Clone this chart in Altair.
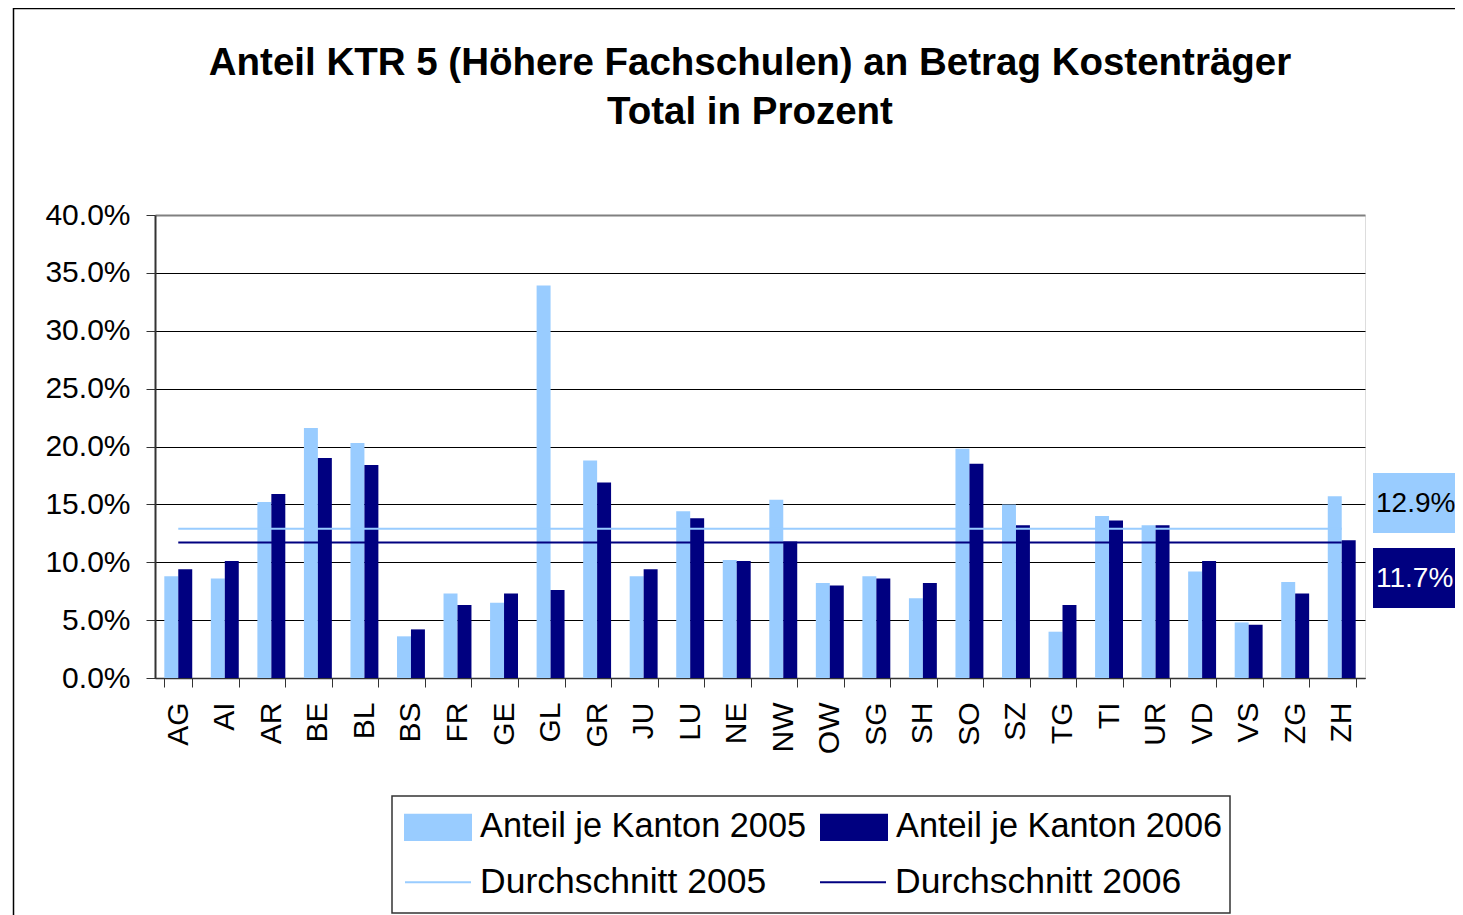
import altair as alt
import pandas as pd

cantons = ["AG", "AI", "AR", "BE", "BL", "BS", "FR", "GE", "GL", "GR", "JU", "LU", "NE",
           "NW", "OW", "SG", "SH", "SO", "SZ", "TG", "TI", "UR", "VD", "VS", "ZG", "ZH"]
share_2005 = [8.8, 8.6, 15.2, 21.6, 20.3, 3.6, 7.3, 6.5, 33.9, 18.8, 8.8, 14.4, 10.2,
              15.4, 8.2, 8.8, 6.9, 19.8, 15.0, 4.0, 14.0, 13.2, 9.2, 4.8, 8.3, 15.7]
share_2006 = [9.4, 10.1, 15.9, 19.0, 18.4, 4.2, 6.3, 7.3, 7.6, 16.9, 9.4, 13.8, 10.1,
              11.8, 8.0, 8.6, 8.2, 18.5, 13.2, 6.3, 13.6, 13.2, 10.1, 4.6, 7.3, 11.9]
avg_2005 = 12.9
avg_2006 = 11.7

bar_names = ["Anteil je Kanton 2005", "Anteil je Kanton 2006"]
line_names = ["Durchschnitt 2005", "Durchschnitt 2006"]
LIGHT = "#99CCFF"
DARK = "#000080"
FONT = "Liberation Sans"

bars = pd.DataFrame({
    "Kanton": cantons * 2,
    "Serie": [bar_names[0]] * len(cantons) + [bar_names[1]] * len(cantons),
    "Anteil": [v / 100 for v in share_2005] + [v / 100 for v in share_2006],
})
lines = pd.DataFrame({
    "Kanton": cantons * 2,
    "Serie": [line_names[0]] * len(cantons) + [line_names[1]] * len(cantons),
    "Anteil": [avg_2005 / 100] * len(cantons) + [avg_2006 / 100] * len(cantons),
})
one = pd.DataFrame({"k": [0]})
avg_labels = pd.DataFrame({"txt": [f"{avg_2005:.1f}%", f"{avg_2006:.1f}%"]})

x_enc = alt.X("Kanton:N", sort=cantons,
              scale=alt.Scale(paddingInner=0.4, paddingOuter=0.2),
              axis=alt.Axis(title=None, labelAngle=270, labelFontSize=30, labelFont=FONT,
                            labelColor="black", labelPadding=15, tickSize=9,
                            tickBand="extent", tickColor="#333333", domainColor="#333333",
                            domainWidth=1.5, labelAlign="right", labelBaseline="middle"))
y_enc = alt.Y("Anteil:Q",
              scale=alt.Scale(domain=[0, 0.4], nice=False),
              axis=alt.Axis(title=None, format=".1%", values=[i * 0.05 for i in range(9)],
                            labelFontSize=30, labelFont=FONT, labelColor="black",
                            labelPadding=16, tickSize=9, tickColor="#333333",
                            domainColor="#333333", domainWidth=2, grid=True,
                            gridColor={"condition": {"test": "datum.value >= 0.399", "value": "#808080"},
                                       "value": "black"},
                            gridWidth={"condition": {"test": "datum.value >= 0.399", "value": 2},
                                       "value": 1}))

frame = alt.Chart(one).mark_rect(fill=None, stroke="black", strokeWidth=1.5, clip=False).encode(
    x=alt.value(-141.5), x2=alt.value(1400), y=alt.value(-206.5), y2=alt.value(800))

bar_layer = alt.Chart(bars).mark_bar().encode(
    x=x_enc,
    xOffset=alt.XOffset("Serie:N", sort=bar_names),
    y=y_enc,
    fill=alt.Fill("Serie:N", scale=alt.Scale(domain=bar_names, range=[LIGHT, DARK]),
                  legend=alt.Legend(orient="none", legendX=249, legendY=578,
                                    direction="horizontal", columns=2, title=None,
                                    symbolType="M-1,-0.4H1V0.4H-1Z", symbolSize=4624,
                                    symbolStrokeWidth=0, labelFontSize=34.3, labelFont=FONT,
                                    labelColor="black", labelOffset=8, columnPadding=13,
                                    labelLimit=1000, padding=0)),
)

line_layer = alt.Chart(lines).mark_line(strokeWidth=2).encode(
    x=alt.X("Kanton:N", sort=cantons),
    y=alt.Y("Anteil:Q"),
    stroke=alt.Stroke("Serie:N", scale=alt.Scale(domain=line_names, range=[LIGHT, DARK]),
                      legend=alt.Legend(orient="none", legendX=249, legendY=633,
                                        direction="horizontal", columns=2, title=None,
                                        symbolType="stroke", symbolSize=4356,
                                        symbolStrokeWidth=2, labelFontSize=35.5,
                                        labelFont=FONT, labelColor="black", labelOffset=8,
                                        columnPadding=49, labelLimit=1000, padding=0)),
)

legend_box = alt.Chart(one).mark_rect(fill=None, stroke="#333333", strokeWidth=1.5, clip=False).encode(
    x=alt.value(237), x2=alt.value(1075), y=alt.value(581), y2=alt.value(698))

box05 = alt.Chart(one).mark_rect(fill=LIGHT, clip=False).encode(
    x=alt.value(1218), x2=alt.value(1330), y=alt.value(258), y2=alt.value(318))
box06 = alt.Chart(one).mark_rect(fill=DARK, clip=False).encode(
    x=alt.value(1218), x2=alt.value(1330), y=alt.value(333), y2=alt.value(393))
txt05 = alt.Chart(avg_labels).transform_filter(alt.datum.txt == f"{avg_2005:.1f}%").mark_text(
    align="left", baseline="middle", fontSize=28, font=FONT, color="black", clip=False).encode(
    text="txt:N", x=alt.value(1221), y=alt.value(289))
txt06 = alt.Chart(avg_labels).transform_filter(alt.datum.txt == f"{avg_2006:.1f}%").mark_text(
    align="left", baseline="middle", fontSize=28, font=FONT, color="white", clip=False).encode(
    text="txt:N", x=alt.value(1221), y=alt.value(364))

chart = alt.layer(frame, bar_layer, line_layer, legend_box, box05, box06, txt05, txt06).resolve_scale(
    fill="independent", stroke="independent"
).properties(
    width=1210, height=463,
    title=alt.Title(["Anteil KTR 5 (Höhere Fachschulen) an Betrag Kostenträger", "Total in Prozent"],
                    fontSize=38.5, font=FONT, fontWeight="bold", color="black", anchor="middle",
                    frame="group", offset=-125, lineHeight=49, dx=-10),
    autosize=alt.AutoSizeParams(type="none"),
    padding={"left": 147, "top": 207, "right": 90, "bottom": 237},
).configure_view(
    stroke="#808080", strokeWidth=2
).configure(background="white")

chart.save("out.html", embed_options={"renderer": "svg", "actions": False})
